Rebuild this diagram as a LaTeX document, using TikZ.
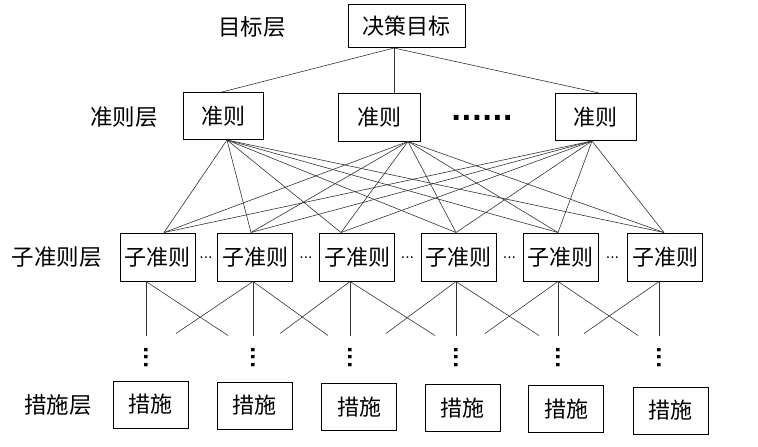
\documentclass[tikz,border=0pt]{standalone}
\usepackage{fontspec}
\setmainfont{Noto Sans CJK SC}
\newfontfamily\dotfont{DejaVu Sans}
\begin{document}
\begin{tikzpicture}[x=1pt,y=-1pt,
  box/.style={draw=black,line width=1pt,inner sep=0pt,minimum width=#1,fill=white},
  box/.default=75pt,
  lbl/.style={font=\fontsize{22.5}{22.5}\selectfont,inner sep=0pt},
  txt/.style={font=\fontsize{22}{22}\selectfont},
  link/.style={draw=black!80,line width=0.6pt},
  hdots/.style={font=\dotfont\fontsize{14}{14}\selectfont,inner sep=0pt},
  bigdots/.style={font=\dotfont\bfseries\fontsize{27}{27}\selectfont,inner sep=0pt},
  vdots/.style={font=\dotfont\bfseries\fontsize{19}{19}\selectfont,inner sep=0pt,rotate=-90}
]
\useasboundingbox (0,0) rectangle (758,447);

% labels
\node[lbl] (Lg) at (252,27) {目标层};
\node[lbl] (Lc) at (124,117) {准则层};
\node[lbl] (Ls) at (57,257) {子准则层};
\node[lbl] (Lm) at (58,405) {措施层};

% goal
\node[box=117pt,minimum height=43pt,txt] (g) at (406.5,26) {决策目标};

% criteria
\node[box=80pt,minimum height=47pt,txt] (c1) at (223,116) {准则};
\node[box=82pt,minimum height=48pt,txt] (c2) at (379,117) {准则};
\node[box=81pt,minimum height=47pt,txt] (c3) at (595.5,117) {准则};
\node[bigdots] (cd) at (482,118) {......};

% sub criteria
\foreach \i/\x in {1/157.5,2/255,3/357,4/458.5,5/560.5,6/665}
  \node[box=75pt,minimum height=48pt,txt] (s\i) at (\x,257) {子准则};
\foreach \i/\x in {1/206,2/306,3/407.5,4/509.5,5/612.5}
  \node[hdots] (sd\i) at (\x,258) {...};

% measures
\foreach \i/\x/\y in {1/150.5/404.5,2/254.5/405.5,3/359/407,4/462.5/408,5/566/409,6/670.5/410.5}
  \node[box=75pt,minimum height=47pt,txt] (m\i) at (\x,\y) {措施};

% goal -> criteria
\coordinate (gb) at ([xshift=-12.5pt]g.south);
\draw[link] (gb) -- ([xshift=-1pt]c1.north);
\draw[link] (gb) -- ([xshift=15pt]c2.north);
\draw[link] (gb) -- ([xshift=3.5pt]c3.north);

% criteria -> sub criteria
\coordinate (c1b) at ([xshift=4pt]c1.south);
\coordinate (c2b) at ([xshift=29pt]c2.south);
\coordinate (c3b) at ([xshift=-3.5pt]c3.south);
\coordinate (s1t) at ([xshift=6.5pt]s1.north);
\coordinate (s2t) at ([xshift=-4pt]s2.north);
\coordinate (s3t) at ([xshift=-16pt]s3.north);
\coordinate (s4t) at ([xshift=-2.5pt]s4.north);
\coordinate (s5t) at ([xshift=-2.5pt]s5.north);
\coordinate (s6t) at ([xshift=-1pt]s6.north);
\foreach \c in {c1b,c2b,c3b}
  \foreach \s in {s1t,s2t,s3t,s4t,s5t,s6t}
    \draw[link] (\c) -- (\s);

% sub criteria -> lower level (partial links)
\foreach \i/\dx/\l/\r in {1/-11.5/0/82,2/-2/-77/75,3/-7/-70/85,4/-2.5/-70/83,5/-2.5/-73/80,6/-6/-75/0}{
  \coordinate (b\i) at ([xshift=\dx pt]s\i.south);
  \coordinate (v\i) at ([yshift=-54pt]b\i);
  \draw[link] (b\i) -- (v\i);
  \ifnum\l=0\else
    \coordinate (dl\i) at ([xshift=\l pt,yshift=-52pt]b\i);
    \draw[link] (b\i) -- (dl\i);
  \fi
  \ifnum\r=0\else
    \coordinate (dr\i) at ([xshift=\r pt,yshift=-54pt]b\i);
    \draw[link] (b\i) -- (dr\i);
  \fi
  \node[vdots] (vd\i) at ([yshift=-76pt]b\i) {...};
}
\end{tikzpicture}
\end{document}
